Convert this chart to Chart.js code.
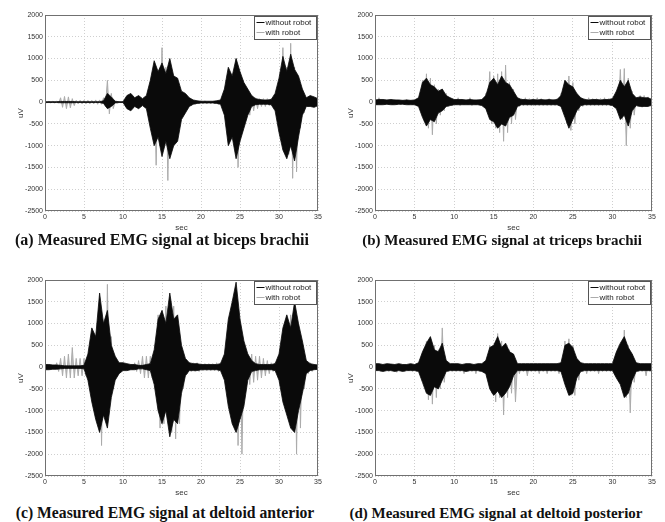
<!DOCTYPE html>
<html>
<head>
<meta charset="utf-8">
<script src="https://cdn.jsdelivr.net/npm/chart.js@4.4.1/dist/chart.umd.min.js"></script>
<style>
  body { margin: 0; background: #fff; width: 665px; height: 522px; position: relative; overflow: hidden; }
  .panel { position: absolute; height: 235px; }
  .cap { position: absolute; font-family: "Liberation Serif", "Times New Roman", serif; font-weight: bold;
         white-space: nowrap; transform: translate(-50%, -50%); color: #111; }
</style>
</head>
<body>
<div class="panel" style="left:0;top:0;width:330px"><canvas id="biceps"></canvas></div>
<div class="panel" style="left:330px;top:0;width:335px"><canvas id="triceps"></canvas></div>
<div class="panel" style="left:0;top:265px;width:330px"><canvas id="anterior"></canvas></div>
<div class="panel" style="left:330px;top:265px;width:335px"><canvas id="posterior"></canvas></div>

<div class="cap" style="left:162px;top:240px;font-size:16px">(a) Measured EMG signal at biceps brachii</div>
<div class="cap" style="left:502px;top:240px;font-size:15px">(b) Measured EMG signal at triceps brachii</div>
<div class="cap" style="left:165px;top:513px;font-size:15.7px">(c) Measured EMG signal at deltoid anterior</div>
<div class="cap" style="left:496px;top:513px;font-size:15px">(d) Measured EMG signal at deltoid posterior</div>

<script>
// axis ranges
const secMax = 35;
const secStep = 5;
const uvMin = -2500;
const uvMax = 2000;
const uvStep = 500;
const seriesNames = ["without robot", "with robot"];
const seriesColors = ["#0a0a0a", "#ababab"];

// envelope of each signal, one value every 0.5 s (0 .. 35 s)
// Hi = positive peak, Lo = negative peak in the half second
const bicepsWithoutHi = [
  10, 10, 10, 10, 15, 15, 15, 15, 10, 10,
  10, 10, 10, 10, 10, 30, 200, 120, 20, 10,
  10, 150, 200, 100, 150, 80, 150, 500, 950, 700,
  900, 650, 1000, 600, 550, 250, 200, 100, 50, 30,
  20, 20, 20, 20, 30, 50, 300, 800, 600, 1000,
  700, 450, 300, 150, 80, 60, 50, 50, 60, 200,
  550, 1050, 700, 1100, 750, 600, 300, 100, 150, 120,
  80];
const bicepsWithoutLo = [
  -10, -10, -10, -10, -15, -15, -15, -15, -10, -10,
  -10, -10, -10, -10, -10, -30, -150, -100, -20, -10,
  -10, -150, -200, -100, -150, -80, -150, -600, -1000, -800,
  -1250, -900, -1300, -1000, -900, -400, -250, -100, -50, -30,
  -20, -20, -20, -20, -30, -50, -300, -1000, -800, -1300,
  -900, -600, -300, -100, -60, -50, -50, -50, -60, -200,
  -700, -1100, -1300, -1000, -1350, -800, -300, -100, -100, -120,
  -80];
const bicepsWithHi = [
  20, 20, 20, 20, 100, 130, 120, 80, 40, 40,
  40, 40, 40, 50, 50, 100, 500, 200, 20, 10,
  10, 50, 50, 50, 50, 50, 60, 300, 600, 700,
  1250, 800, 700, 600, 300, 150, 100, 60, 40, 30,
  30, 30, 20, 20, 30, 40, 150, 400, 600, 1000,
  600, 300, 200, 150, 100, 80, 80, 80, 80, 150,
  400, 1250, 800, 1350, 800, 400, 200, 100, 100, 100,
  50];
const bicepsWithLo = [
  -20, -20, -20, -20, -120, -150, -130, -80, -40, -40,
  -40, -40, -40, -50, -50, -100, -270, -150, -20, -10,
  -10, -50, -60, -60, -60, -60, -80, -400, -1450, -900,
  -1000, -1800, -1000, -800, -400, -150, -100, -80, -50, -40,
  -40, -40, -40, -40, -50, -60, -200, -600, -800, -1500,
  -700, -400, -300, -200, -150, -100, -100, -80, -80, -150,
  -500, -700, -1200, -1750, -1600, -600, -250, -100, -100, -100,
  -50];

const tricepsWithoutHi = [
  50, 60, 60, 50, 60, 50, 50, 40, 50, 40,
  50, 100, 450, 550, 400, 350, 250, 300, 150, 100,
  60, 60, 60, 50, 60, 50, 50, 60, 150, 450,
  550, 400, 600, 450, 400, 250, 100, 60, 60, 50,
  60, 50, 60, 50, 60, 50, 60, 150, 500, 400,
  350, 200, 100, 60, 50, 60, 60, 50, 60, 60,
  80, 250, 500, 350, 500, 200, 100, 120, 100, 100,
  60];
const tricepsWithoutLo = [
  -60, -60, -60, -50, -60, -60, -50, -50, -60, -60,
  -60, -100, -350, -550, -400, -450, -250, -200, -100, -80,
  -60, -60, -60, -60, -60, -60, -60, -80, -150, -400,
  -450, -600, -500, -550, -350, -300, -100, -60, -60, -60,
  -60, -60, -60, -60, -60, -60, -60, -100, -350, -600,
  -400, -200, -80, -60, -60, -60, -60, -60, -60, -60,
  -80, -150, -400, -300, -550, -200, -80, -100, -100, -100,
  -60];
const tricepsWithHi = [
  60, 100, 60, 50, 60, 60, 50, 50, 60, 50,
  50, 100, 500, 650, 550, 400, 300, 300, 200, 100,
  60, 100, 60, 50, 100, 50, 60, 60, 200, 700,
  600, 650, 700, 850, 450, 300, 100, 80, 100, 80,
  80, 100, 80, 60, 80, 60, 80, 200, 500, 600,
  450, 200, 100, 80, 100, 80, 80, 80, 100, 80,
  100, 250, 750, 770, 550, 250, 100, 150, 150, 120,
  80];
const tricepsWithLo = [
  -60, -60, -60, -60, -60, -60, -60, -60, -60, -60,
  -60, -100, -450, -600, -750, -500, -300, -200, -100, -80,
  -60, -80, -60, -60, -80, -60, -60, -80, -200, -500,
  -600, -700, -900, -700, -500, -400, -100, -80, -80, -80,
  -80, -80, -80, -80, -80, -80, -80, -150, -500, -650,
  -500, -200, -100, -80, -80, -80, -80, -80, -80, -80,
  -100, -200, -400, -1000, -600, -300, -100, -120, -100, -100,
  -80];

const anteriorWithoutHi = [
  60, 60, 50, 50, 40, 30, 30, 30, 30, 30,
  40, 300, 900, 700, 1700, 1000, 1300, 500, 250, 100,
  100, 80, 60, 60, 40, 40, 60, 80, 400, 1100,
  1300, 1000, 1700, 1100, 1200, 500, 200, 100, 80, 80,
  60, 60, 60, 60, 60, 80, 300, 1100, 1500, 1950,
  1100, 600, 300, 150, 80, 60, 60, 60, 60, 80,
  300, 900, 1200, 900, 1500, 1000, 600, 150, 80, 60,
  50];
const anteriorWithoutLo = [
  -60, -60, -50, -50, -40, -30, -30, -30, -30, -30,
  -40, -300, -800, -1200, -1500, -1100, -1400, -700, -300, -150,
  -80, -80, -60, -60, -40, -40, -60, -80, -400, -1000,
  -1300, -1000, -1600, -1200, -1300, -600, -200, -80, -80, -80,
  -60, -60, -60, -60, -60, -80, -300, -900, -1300, -1500,
  -1200, -900, -300, -100, -80, -60, -60, -60, -60, -80,
  -300, -800, -1100, -1400, -1500, -1000, -600, -150, -80, -60,
  -50];
const anteriorWithHi = [
  20, 20, 30, 100, 200, 250, 300, 450, 200, 200,
  200, 250, 200, 400, 1000, 900, 1900, 700, 200, 80,
  50, 50, 60, 100, 150, 250, 250, 250, 300, 1200,
  1300, 1400, 1600, 1400, 1000, 400, 150, 100, 100, 100,
  80, 80, 80, 80, 100, 100, 200, 800, 1200, 1700,
  1000, 400, 300, 300, 250, 250, 200, 150, 100, 100,
  200, 600, 1000, 1200, 1550, 1000, 500, 150, 100, 60,
  50];
const anteriorWithLo = [
  -20, -20, -30, -100, -200, -250, -250, -250, -200, -200,
  -200, -250, -300, -800, -1800, -1000, -800, -500, -200, -80,
  -50, -50, -60, -100, -150, -250, -250, -250, -300, -1400,
  -1300, -1200, -1500, -1650, -1300, -500, -150, -100, -100, -100,
  -80, -80, -80, -80, -100, -100, -200, -700, -1000, -1800,
  -2000, -500, -400, -350, -300, -250, -200, -150, -100, -100,
  -200, -600, -1000, -1300, -2000, -1400, -500, -150, -100, -60,
  -50];

const posteriorWithoutHi = [
  80, 80, 60, 80, 70, 60, 80, 60, 60, 80,
  60, 100, 350, 550, 700, 400, 350, 550, 150, 80,
  80, 80, 60, 80, 80, 60, 80, 80, 150, 450,
  500, 700, 450, 550, 350, 300, 80, 80, 80, 80,
  80, 80, 80, 80, 80, 80, 80, 100, 500, 550,
  450, 200, 100, 80, 80, 80, 80, 80, 80, 80,
  80, 350, 550, 700, 450, 300, 100, 80, 80, 80,
  80];
const posteriorWithoutLo = [
  -80, -80, -100, -80, -80, -100, -80, -100, -80, -80,
  -80, -100, -350, -600, -650, -450, -500, -300, -100, -80,
  -80, -80, -80, -100, -80, -80, -80, -100, -150, -500,
  -650, -550, -700, -600, -450, -200, -80, -80, -80, -80,
  -80, -80, -80, -80, -80, -80, -80, -100, -400, -650,
  -600, -250, -100, -80, -80, -80, -80, -80, -80, -80,
  -80, -250, -400, -700, -600, -300, -100, -80, -80, -80,
  -80];
const posteriorWithHi = [
  60, 60, 60, 60, 60, 60, 60, 60, 60, 60,
  60, 100, 300, 600, 650, 500, 400, 900, 150, 60,
  60, 60, 60, 60, 60, 60, 60, 60, 150, 500,
  500, 770, 600, 500, 400, 300, 80, 60, 60, 60,
  60, 60, 60, 60, 60, 60, 60, 100, 600, 650,
  500, 200, 100, 60, 60, 60, 60, 60, 60, 60,
  60, 300, 500, 850, 500, 300, 100, 60, 60, 60,
  60];
const posteriorWithLo = [
  -80, -100, -80, -100, -80, -120, -80, -100, -80, -100,
  -100, -120, -300, -750, -850, -700, -500, -350, -100, -100,
  -100, -100, -150, -100, -100, -150, -100, -100, -200, -600,
  -800, -700, -1100, -700, -600, -800, -150, -100, -200, -100,
  -100, -150, -100, -150, -100, -100, -150, -100, -450, -650,
  -650, -300, -100, -150, -100, -100, -150, -100, -100, -100,
  -100, -200, -450, -700, -1050, -350, -100, -100, -200, -100,
  -100];

const sampleStep = 0.5;

function points(values) {
  return values.map((v, i) => ({ x: i * sampleStep, y: v }));
}

// swing between the positive and negative peak of every half second
function trace(hi, lo) {
  const pts = [];
  hi.forEach((v, i) => {
    pts.push({ x: i * sampleStep, y: v });
    pts.push({ x: i * sampleStep + sampleStep / 2, y: lo[i] });
  });
  return pts;
}

const tickFont = { family: "'Liberation Sans', Arial, sans-serif", size: 7 };
const titleFont = { family: "'Liberation Sans', Arial, sans-serif", size: 8 };

// axes box and the small legend in the upper right corner
const frameLegend = {
  id: "frameLegend",
  afterDraw(chart) {
    const { ctx, chartArea: a } = chart;
    ctx.save();
    ctx.lineWidth = 1;
    ctx.strokeStyle = "#707070";
    ctx.strokeRect(Math.round(a.left) + 0.5, Math.round(a.top) + 0.5,
                   Math.round(a.width) - 1, Math.round(a.height) - 1);

    const w = 62, h = 23;
    const x = Math.round(a.right - w - 2) + 0.5;
    const y = Math.round(a.top + 1) + 0.5;
    ctx.fillStyle = "#fff";
    ctx.fillRect(x, y, w, h);
    ctx.strokeStyle = "#555";
    ctx.strokeRect(x, y, w, h);
    ctx.font = "8px 'Liberation Sans', Arial, sans-serif";
    ctx.textBaseline = "middle";
    seriesNames.forEach((name, i) => {
      const ly = y + 6 + i * 10;
      ctx.strokeStyle = seriesColors[i];
      ctx.beginPath();
      ctx.moveTo(x + 2, ly);
      ctx.lineTo(x + 10, ly);
      ctx.stroke();
      ctx.fillStyle = "#222";
      ctx.fillText(name, x + 11, ly);
    });
    ctx.restore();
  }
};

function drawPanel(id, padRight, withoutHi, withoutLo, withHi, withLo) {
  new Chart(document.getElementById(id), {
    type: "line",
    data: {
      datasets: [
        // without robot: band between the peaks (drawn on top)
        { label: seriesNames[0], data: points(withoutHi), borderColor: seriesColors[0],
          backgroundColor: seriesColors[0], fill: "+1" },
        { label: seriesNames[0] + " (neg)", data: points(withoutLo), borderColor: seriesColors[0],
          backgroundColor: seriesColors[0], fill: false },
        // with robot: swinging trace underneath, filled to zero
        { label: seriesNames[1], data: trace(withHi, withLo), borderColor: seriesColors[1],
          backgroundColor: "#bdbdbd", fill: "origin", borderWidth: 1 }
      ]
    },
    options: {
      responsive: true,
      maintainAspectRatio: false,
      animation: false,
      layout: { padding: { left: 15, right: padRight, top: 15, bottom: 0 } },
      plugins: { legend: { display: false }, tooltip: { enabled: false } },
      elements: { point: { radius: 0 }, line: { borderWidth: 0.8, tension: 0 } },
      scales: {
        x: {
          type: "linear", min: 0, max: secMax,
          ticks: { stepSize: secStep, font: tickFont, color: "#333", padding: 2, maxRotation: 0,
                   callback: v => String(v) },
          grid: { color: "#cfcfcf", drawTicks: false },
          border: { display: false, dash: [1, 2] },
          title: { display: true, text: "sec", font: titleFont, color: "#333", padding: { top: 0, bottom: 2 } },
          afterFit: s => { s.height = 24; }
        },
        y: {
          min: uvMin, max: uvMax,
          ticks: { stepSize: uvStep, font: tickFont, color: "#333", padding: 2,
                   callback: v => String(v) },
          grid: { color: "#cfcfcf", drawTicks: false },
          border: { display: false, dash: [1, 2] },
          title: { display: true, text: "uV", font: titleFont, color: "#333", padding: { top: 1, bottom: 0 } },
          afterFit: s => { s.width = 30; }
        }
      }
    },
    plugins: [frameLegend]
  });
}

drawPanel("biceps", 12, bicepsWithoutHi, bicepsWithoutLo, bicepsWithHi, bicepsWithLo);
drawPanel("triceps", 13, tricepsWithoutHi, tricepsWithoutLo, tricepsWithHi, tricepsWithLo);
drawPanel("anterior", 12, anteriorWithoutHi, anteriorWithoutLo, anteriorWithHi, anteriorWithLo);
drawPanel("posterior", 13, posteriorWithoutHi, posteriorWithoutLo, posteriorWithHi, posteriorWithLo);
</script>
</body>
</html>
